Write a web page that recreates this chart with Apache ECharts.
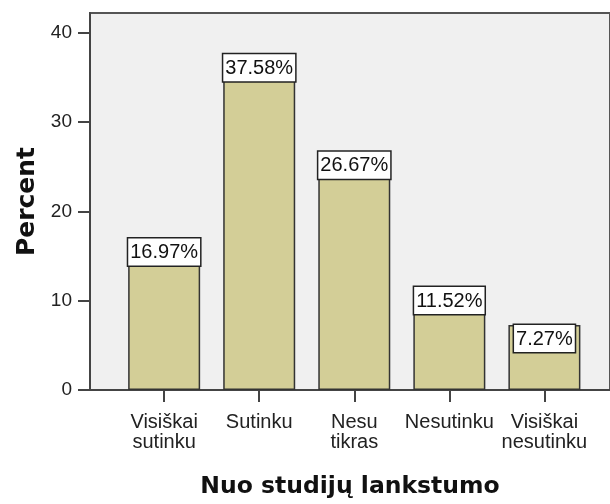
<!DOCTYPE html>
<html>
<head>
<meta charset="utf-8">
<script src="https://cdn.jsdelivr.net/npm/echarts@6/dist/echarts.min.js"></script>
<style>
  html, body { margin: 0; padding: 0; background: #fff; }
  #chart { width: 610px; height: 504px; }
</style>
</head>
<body>
<div id="chart"></div>
<script>
const categories = ['Visiškai\nsutinku', 'Sutinku', 'Nesu\ntikras', 'Nesutinku', 'Visiškai\nnesutinku'];
const percents = [16.97, 37.58, 26.67, 11.52, 7.27];
const yTicks = [0, 10, 20, 30, 40];
const xTicks = [0, 1, 2, 3, 4];

const chart = echarts.init(document.getElementById('chart'));

const option = {
  animation: false,
  grid: {
    left: 90, right: 0, top: 13, bottom: 111,
    show: true,
    backgroundColor: '#f0f0f0',
    borderColor: '#555',
    borderWidth: 2
  },
  xAxis: {
    type: 'value',
    min: -0.78,
    max: 4.69,
    name: 'Nuo studijų lankstumo',
    nameLocation: 'middle',
    nameGap: 85,
    nameTextStyle: { fontFamily: 'DejaVu Sans', fontWeight: 'bold', fontSize: 23.5, color: '#111' },
    splitLine: { show: false },
    axisLine: { show: true, onZero: false, lineStyle: { color: '#444', width: 2 } },
    axisTick: { show: true, length: 12, customValues: xTicks, lineStyle: { color: '#444', width: 2 } },
    axisLabel: {
      customValues: xTicks,
      margin: 22,
      fontFamily: 'Liberation Sans',
      fontSize: 20,
      lineHeight: 20,
      color: '#222',
      formatter: v => categories[Math.round(v)]
    }
  },
  yAxis: {
    type: 'value',
    min: 0,
    max: 42.2,
    name: 'Percent',
    nameLocation: 'middle',
    nameGap: 48,
    nameTextStyle: { fontFamily: 'DejaVu Sans', fontWeight: 'bold', fontSize: 25, color: '#111' },
    splitLine: { show: false },
    axisLine: { show: true, onZero: false, lineStyle: { color: '#444', width: 2 } },
    axisTick: { show: true, length: 12, customValues: yTicks, lineStyle: { color: '#444', width: 2 } },
    axisLabel: {
      customValues: yTicks,
      margin: 18,
      fontFamily: 'Liberation Sans',
      fontSize: 19,
      color: '#222'
    }
  },
  series: [{
    type: 'bar',
    barWidth: 72,
    data: percents.map((v, i) => [i, v]),
    itemStyle: { color: '#d3ce97', borderColor: '#333', borderWidth: 1.5 },
    label: {
      show: true,
      position: 'insideTop',
      distance: 0,
      formatter: p => p.value[1].toFixed(2) + '%',
      fontFamily: 'Liberation Sans',
      fontSize: 20,
      lineHeight: 22,
      color: '#111',
      backgroundColor: '#fff',
      borderColor: '#222',
      borderWidth: 1.5,
      padding: [3, 2, 2, 2]
    }
  }]
};

chart.setOption(option);
</script>
</body>
</html>
